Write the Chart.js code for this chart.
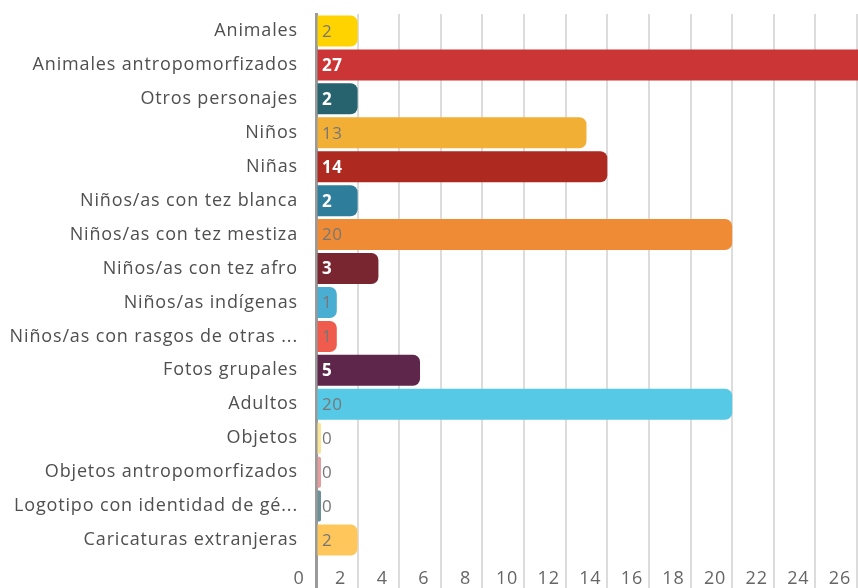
<!DOCTYPE html>
<html>
<head>
<meta charset="utf-8">
<script src="https://cdn.jsdelivr.net/npm/chart.js@4/dist/chart.umd.min.js"></script>
<style>
html,body{margin:0;padding:0;background:#fff;}
#wrap{width:858px;height:588px;position:relative;}
</style>
</head>
<body>
<div id="wrap"><canvas id="c" width="858" height="588"></canvas></div>
<script>
const categories = [
  "Animales",
  "Animales antropomorfizados",
  "Otros personajes",
  "Niños",
  "Niñas",
  "Niños/as con tez blanca",
  "Niños/as con tez mestiza",
  "Niños/as con tez afro",
  "Niños/as indígenas",
  "Niños/as con rasgos de otras ...",
  "Fotos grupales",
  "Adultos",
  "Objetos",
  "Objetos antropomorfizados",
  "Logotipo con identidad de gé...",
  "Caricaturas extranjeras"
];
const values = [2, 27, 2, 13, 14, 2, 20, 3, 1, 1, 5, 20, 0, 0, 0, 2];
const xTickValues = [0, 2, 4, 6, 8, 10, 12, 14, 16, 18, 20, 22, 24, 26];

const barColors = [
  "#ffd300", "#cc3535", "#26636f", "#f2af36", "#ae2920", "#2d7d9b",
  "#f08b35", "#7a2630", "#4aaed3", "#ef5c4e", "#5d264a", "#55c9e6",
  "#f8e596", "#e69c9c", "#6d8f98", "#ffc75b"
];
const darkLabel = [false, true, true, false, true, true, false, true, false, false, true, false, false, false, false, false];

const FONT = "'Open Sans', 'Noto Sans', sans-serif";
const SPACING = "0.85px";

const spacingPlugin = {
  id: "spacing",
  beforeUpdate(chart) { chart.ctx.letterSpacing = SPACING; },
  beforeDraw(chart) { chart.ctx.letterSpacing = SPACING; }
};

const valueLabels = {
  id: "valueLabels",
  afterDatasetsDraw(chart) {
    const ctx = chart.ctx;
    const meta = chart.getDatasetMeta(0);
    const x0 = chart.scales.x.getPixelForValue(0);
    ctx.save();
    ctx.letterSpacing = "0.5px";
    ctx.textAlign = "left";
    ctx.textBaseline = "middle";
    meta.data.forEach((bar, i) => {
      const dark = darkLabel[i];
      ctx.font = (dark ? "bold " : "") + "17px " + FONT;
      ctx.fillStyle = dark ? "#ffffff" : "#777777";
      ctx.fillText(String(values[i]), x0 + 6, bar.y + 1);
    });
    ctx.restore();
  }
};

new Chart(document.getElementById("c"), {
  type: "bar",
  data: {
    labels: categories,
    datasets: [{
      data: values,
      backgroundColor: barColors,
      borderWidth: 0,
      borderRadius: 7,
      borderSkipped: "start",
      barPercentage: 0.915,
      categoryPercentage: 1,
      minBarLength: 5,
      clip: { left: 0, right: false, top: false, bottom: false }
    }]
  },
  options: {
    indexAxis: "y",
    responsive: false,
    animation: false,
    devicePixelRatio: 1,
    layout: { padding: { top: 14, right: 0, bottom: 0, left: 0 } },
    plugins: {
      legend: { display: false },
      tooltip: { enabled: false },
      title: { display: false }
    },
    scales: {
      x: {
        type: "linear",
        min: 0,
        max: 26.05,
        afterBuildTicks(scale) {
          scale.ticks = xTickValues.map(v => ({ value: v }));
        },
        afterFit(scale) {
          scale.paddingLeft = 0;
          scale.paddingRight = 0;
          scale.height = 31;
        },
        grid: {
          color: ctx => (ctx.tick && ctx.tick.value === 0) ? "#9a9a9a" : "#dcdcdc",
          lineWidth: ctx => (ctx.tick && ctx.tick.value === 0) ? 3 : 2,
          tickLength: 31,
          drawTicks: true
        },
        border: { display: false },
        ticks: {
          autoSkip: false,
          maxRotation: 0,
          labelOffset: -17,
          padding: -20,
          color: "#666666",
          font: { family: FONT, size: 18 }
        }
      },
      y: {
        type: "category",
        z: 1,
        afterFit(scale) {
          scale.width = 316;
          scale.paddingTop = 0;
          scale.paddingBottom = 0;
        },
        grid: { display: false, drawTicks: false },
        border: { display: true, color: "#9a9a9a", width: 3 },
        ticks: {
          autoSkip: false,
          padding: 18,
          color: "#4f4f4f",
          font: { family: FONT, size: 18 }
        }
      }
    }
  },
  plugins: [spacingPlugin, valueLabels]
});
</script>
</body>
</html>
